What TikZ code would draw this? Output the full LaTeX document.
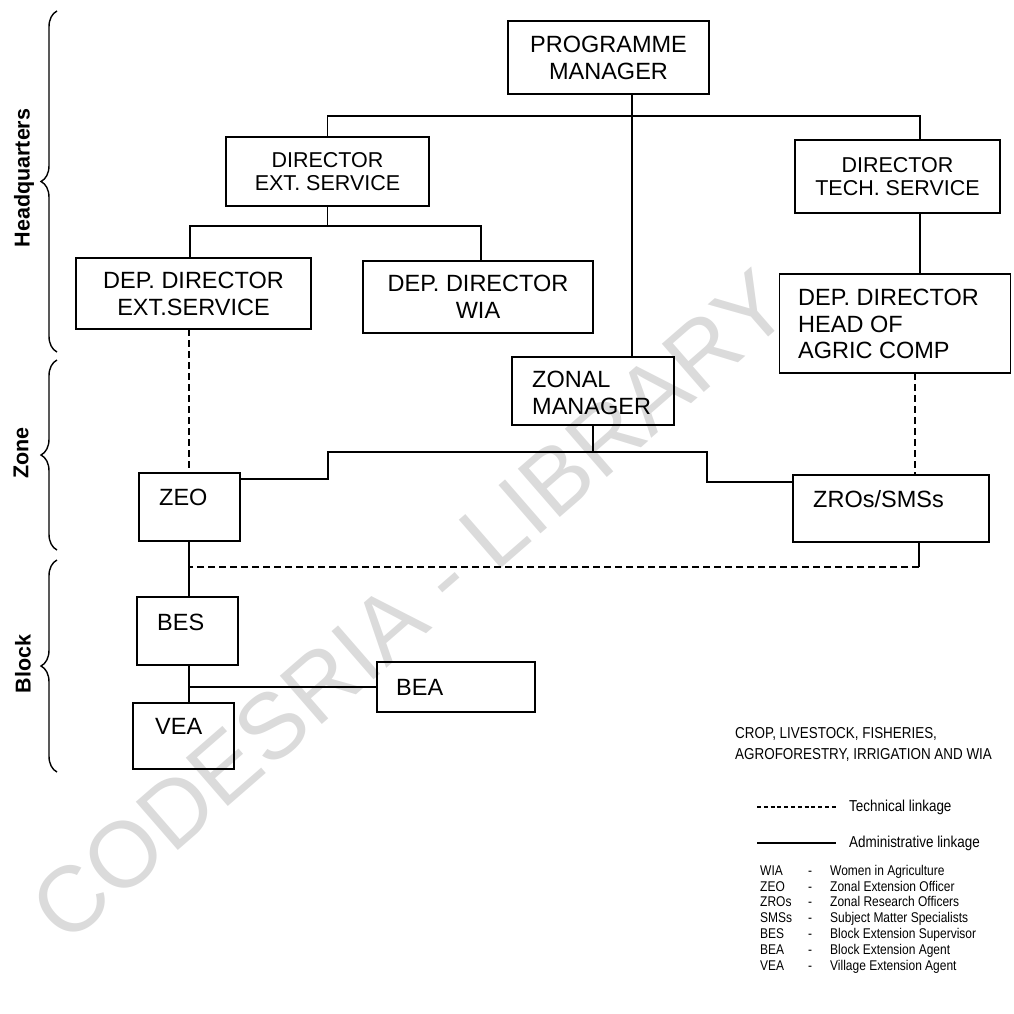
\documentclass[tikz,border=0pt]{standalone}
\usepackage{fontspec}
\setmainfont{Liberation Sans}
\newfontfamily\legfont[FakeStretch=0.85]{Liberation Sans}
\usetikzlibrary{decorations.pathreplacing,calc}
\begin{document}
\begin{tikzpicture}[x=1pt,y=-1pt,
  box/.style={draw, line width=1.6pt, rectangle, inner sep=0pt, outer sep=0pt, align=center, font=\fontsize{23.5}{27}\selectfont},
  dbox/.style={box, font=\fontsize{21.5}{23.5}\selectfont},
  lbl/.style={anchor=west, inner sep=0pt, align=left, font=\fontsize{23.5}{26.5}\selectfont},
  conn/.style={line width=1.3pt},
  tech/.style={line width=1.3pt, dash pattern=on 7pt off 4pt},
  lvl/.style={font=\fontsize{21.5}{24}\selectfont\bfseries, rotate=90, inner sep=0pt},
  lvlbrace/.style={decorate, decoration={brace, amplitude=16pt}, line width=1.4pt},
  leg/.style={anchor=west, inner sep=0pt, align=left, font=\legfont\fontsize{15.8}{21}\selectfont},
  wmark/.style={text=black!14, font=\fontsize{93}{93}\selectfont, rotate=41, inner sep=0pt}
]
\useasboundingbox (0,0) rectangle (1013,1014);
\node[wmark] (wm) at (410,606) {CODESRIA - LIBRARY};

% boxes
\node[box, minimum width=201pt, minimum height=73pt] (pm) at (608.5,57.5) {PROGRAMME\\MANAGER};
\node[dbox, minimum width=203pt, minimum height=69pt] (de) at (327.5,171.5) {DIRECTOR\\EXT. SERVICE};
\node[dbox, minimum width=205pt, minimum height=73pt] (dt) at (897.5,176.5) {DIRECTOR\\TECH. SERVICE};
\node[box, minimum width=235pt, minimum height=71pt] (dde) at (193.5,293.5) {DEP. DIRECTOR\\EXT.SERVICE};
\node[box, minimum width=230pt, minimum height=72pt] (ddw) at (478,297) {DEP. DIRECTOR\\WIA};
\node[box, minimum width=231pt, minimum height=99pt] (ddh) at (895,323.5) {};
\node[box, minimum width=162pt, minimum height=68pt] (zm) at (593,391) {};
\node[box, minimum width=101pt, minimum height=68pt] (zeo) at (189.5,507) {};
\node[box, minimum width=196pt, minimum height=67pt] (zros) at (891,508.5) {};
\node[box, minimum width=101pt, minimum height=68pt] (bes) at (187.5,631) {};
\node[box, minimum width=158pt, minimum height=50pt] (bea) at (456,687) {};
\node[box, minimum width=101pt, minimum height=66pt] (vea) at (183.5,736) {};

% box texts
\node[lbl] (ddh-t) at (798,324) {DEP. DIRECTOR\\HEAD OF\\AGRIC COMP};
\node[lbl] (zm-t) at (532,393) {ZONAL\\MANAGER};
\node[lbl] (zeo-t) at (159,497) {ZEO};
\node[lbl] (zros-t) at (813,499) {ZROs/SMSs};
\node[lbl] (bes-t) at (157,622) {BES};
\node[lbl] (bea-t) at (396,687) {BEA};
\node[lbl] (vea-t) at (155,726) {VEA};

% helper coordinates
\coordinate (b1) at (632,116);
\coordinate (xdt) at (920,0);
\coordinate (xl) at (190,0);
\coordinate (xw) at (481,0);
\coordinate (sp) at (189,0);
\coordinate (xzr) at (915,0);
\coordinate (xz2) at (919,0);
\coordinate (b3l) at (328,452);
\coordinate (b3r) at (707,452);

% connectors
\draw[conn] (pm.south -| b1) -- (zm.north -| b1);
\draw[conn] (de.north) |- (b1) -| (dt.north -| xdt);
\draw[conn] (dt.south -| xdt) -- (ddh.north -| xdt);
\draw[conn] (de.south) -- ++(0,20) coordinate (b2);
\draw[conn] (dde.north -| xl) |- (b2) -| (ddw.north -| xw);
\draw[tech] (dde.south -| sp) -- (zeo.north -| sp);
\draw[tech] (ddh.south -| xzr) -- (zros.north -| xzr);
\draw[conn] (zm.south) -- (zm.south |- b3l);
\draw[conn] ([yshift=-6pt]zeo.north east) -| (b3l) -- (b3r) |- ([yshift=-7pt]zros.north west);
\draw[conn] (zeo.south -| sp) -- (bes.north -| sp);
\draw[conn] (bes.south -| sp) -- (vea.north -| sp);
\draw[conn] (bea.west) -- (bea.west -| sp);
\draw[conn] (zros.south -| xz2) -- ++(0,25) coordinate (c1);
\draw[tech] (c1) -- (c1 -| sp);

% level braces
\coordinate (hqb) at (57,352); \coordinate (hqt) at (57,11);
\draw[lvlbrace] (hqb) -- (hqt);
\node[lvl] (hq) at (24,178) {Headquarters};
\coordinate (zb) at (57,550); \coordinate (zt) at (57,360);
\draw[lvlbrace] (zb) -- (zt);
\node[lvl] (zn) at (21,453) {Zone};
\coordinate (bb) at (57,772); \coordinate (bt) at (57,560);
\draw[lvlbrace] (bb) -- (bt);
\node[lvl] (bk) at (23,664) {Block};

% legend
\node[leg] (crop) at (735,744) {CROP, LIVESTOCK, FISHERIES,\\AGROFORESTRY, IRRIGATION AND WIA};
\coordinate (t1) at (757,807); \coordinate (t2) at (836,807);
\draw[line width=1.1pt, dash pattern=on 4pt off 2.8pt] (t1) -- (t2);
\node[leg] (tl) at (849,807) {Technical linkage};
\coordinate (a1) at (757,843); \coordinate (a2) at (836,843);
\draw[conn] (a1) -- (a2);
\node[leg] (al) at (849,843) {Administrative linkage};
\node[anchor=north west, inner sep=0pt, font=\legfont\fontsize{14.1}{15.8}\selectfont] (abbr) at (760,864) {%
\begin{tabular}{@{}p{46pt}@{}p{24pt}@{}l@{}}
WIA & \hspace{2pt}- & Women in Agriculture\\
ZEO & \hspace{2pt}- & Zonal Extension Officer\\
ZROs & \hspace{2pt}- & Zonal Research Officers\\
SMSs & \hspace{2pt}- & Subject Matter Specialists\\
BES & \hspace{2pt}- & Block Extension Supervisor\\
BEA & \hspace{2pt}- & Block Extension Agent\\
VEA & \hspace{2pt}- & Village Extension Agent
\end{tabular}};
\end{tikzpicture}
\end{document}
